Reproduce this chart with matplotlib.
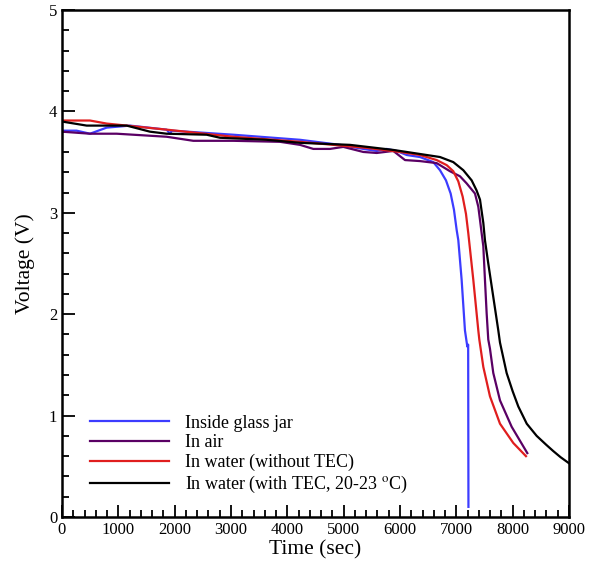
import matplotlib.pyplot as plt
from matplotlib.ticker import MultipleLocator

plt.rcParams['font.family'] = ['Liberation Serif', 'DejaVu Serif']
plt.rcParams['mathtext.fontset'] = 'stix'

# Inside glass jar
t_jar = [0, 260, 497, 793, 1207, 1858, 1917, 1950, 3041, 4225, 4934, 5348, 5586,
         5763, 5941, 6119, 6355, 6591, 6710, 6816, 6899, 6958, 7006, 7035, 7094,
         7153, 7195, 7210, 7215]
v_jar = [3.81, 3.81, 3.78, 3.84, 3.86, 3.82, 3.78, 3.81, 3.77, 3.72, 3.67, 3.63, 3.61,
         3.63, 3.61, 3.57, 3.55, 3.50, 3.42, 3.32, 3.19, 3.03, 2.83, 2.73, 2.34,
         1.84, 1.68, 1.70, 0.10]

# In air
t_air = [0, 497, 970, 1858, 2331, 3041, 3870, 4225, 4461, 4757, 4993, 5348, 5586,
         5881, 6089, 6355, 6651, 6887, 7065, 7183, 7331, 7390, 7420, 7449, 7479,
         7508, 7538, 7567, 7597, 7656, 7775, 7982, 8260]
v_air = [3.80, 3.78, 3.78, 3.75, 3.71, 3.71, 3.70, 3.67, 3.63, 3.63, 3.65, 3.60, 3.59,
         3.61, 3.52, 3.51, 3.49, 3.41, 3.36, 3.29, 3.19, 3.06, 2.93, 2.80, 2.67,
         2.34, 2.01, 1.75, 1.66, 1.42, 1.15, 0.89, 0.63]

# In water (without TEC)
t_wat = [0, 497, 793, 1858, 3041, 4225, 5409, 6000, 6355, 6651, 6829, 6946, 7035,
         7112, 7171, 7212, 7301, 7390, 7408, 7479, 7597, 7775, 8011, 8236]
v_wat = [3.91, 3.91, 3.88, 3.82, 3.75, 3.70, 3.64, 3.60, 3.57, 3.52, 3.47, 3.41, 3.31,
         3.16, 2.99, 2.80, 2.34, 1.84, 1.75, 1.48, 1.19, 0.92, 0.73, 0.60]

# In water (with TEC, 20-23 C)
t_tec = [0, 438, 1148, 1562, 1858, 2568, 2805, 3633, 4225, 5112, 5881, 6355, 6710,
         6946, 7124, 7272, 7360, 7420, 7479, 7508, 7567, 7656, 7745, 7775, 7893,
         8000, 8100, 8250, 8426, 8600, 8721, 8850, 9000]
v_tec = [3.90, 3.86, 3.86, 3.80, 3.78, 3.77, 3.74, 3.72, 3.69, 3.67, 3.62, 3.58, 3.55,
         3.50, 3.42, 3.32, 3.22, 3.13, 2.90, 2.73, 2.50, 2.17, 1.84, 1.72, 1.42,
         1.24, 1.09, 0.92, 0.80, 0.71, 0.65, 0.59, 0.53]

fig = plt.figure(figsize=(5.97, 5.61), dpi=100)
ax = fig.add_axes([62/597, 1-517/561, 507/597, 507/561])

ax.plot(t_jar, v_jar, color='#3c3cff', lw=1.6, label='Inside glass jar')
ax.plot(t_air, v_air, color='#5a0064', lw=1.6, label='In air')
ax.plot(t_wat, v_wat, color='#e01e1e', lw=1.6, label='In water (without TEC)')
ax.plot(t_tec, v_tec, color='#000000', lw=1.6, label='In water (with TEC, 20-23 $^{\\rm o}$C)')

ax.set_xlim(0, 9000)
ax.set_ylim(0, 5)
ax.xaxis.set_major_locator(MultipleLocator(1000))
ax.xaxis.set_minor_locator(MultipleLocator(200))
ax.yaxis.set_major_locator(MultipleLocator(1))
ax.yaxis.set_minor_locator(MultipleLocator(0.2))
ax.tick_params(which='both', direction='in', labelsize=12, width=1.3)
ax.tick_params(which='major', length=9)
ax.tick_params(which='minor', length=5)
for s in ax.spines.values():
    s.set_linewidth(1.8)

ax.set_xlabel('Time (sec)', fontsize=15.5, labelpad=2)
ax.set_ylabel('Voltage (V)', fontsize=15.5, labelpad=10)

ax.legend(loc='lower left', bbox_to_anchor=(0.055, 0.043), frameon=False,
          borderpad=0, borderaxespad=0,
          fontsize=13, handlelength=4.4, handletextpad=0.85, labelspacing=0.15)

fig.savefig('out.png', dpi=100)
